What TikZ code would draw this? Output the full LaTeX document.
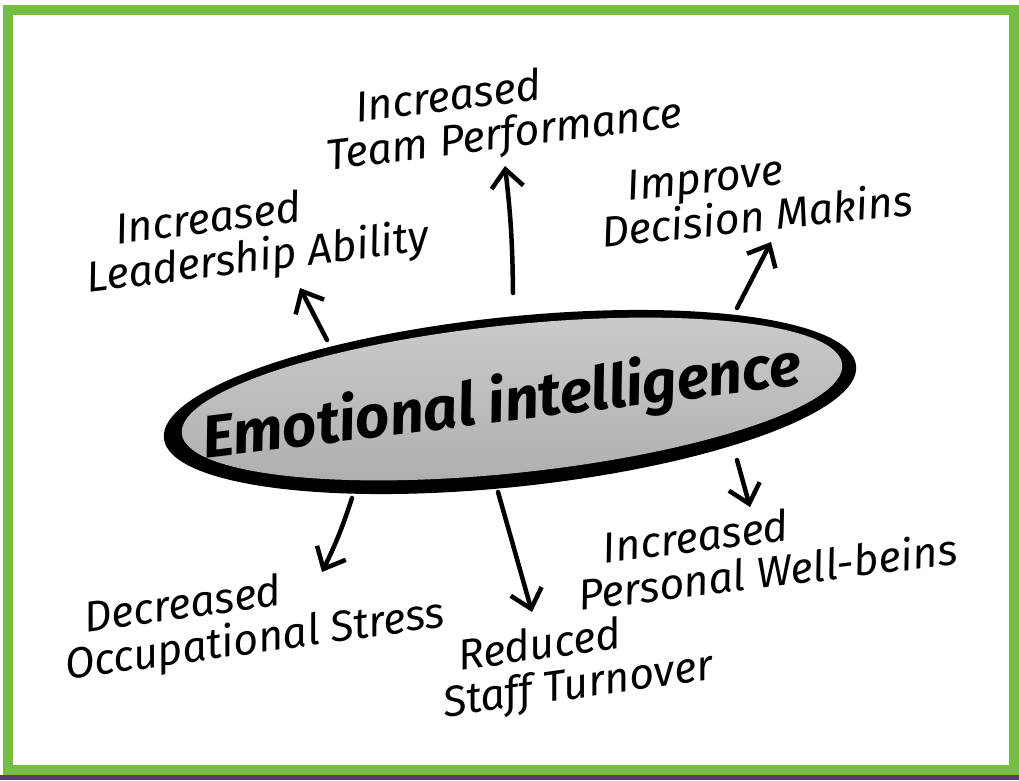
\documentclass[tikz,border=0pt]{standalone}
\usepackage{fontspec}
\setmainfont{Fira Sans}
\usetikzlibrary{shapes.geometric,arrows.meta}
\definecolor{framegreen}{HTML}{76BD43}
\definecolor{strippurple}{HTML}{5E3B6E}
\tikzset{
	rim/.style={ellipse, fill=black, minimum width=696pt, minimum height=170pt, inner sep=0pt},
	core/.style={ellipse, top color=black!20, bottom color=black!32, minimum width=664pt, minimum height=148pt, inner sep=0pt},
	benefit/.style={font=\fontsize{43}{44}\selectfont\itshape, align=left, inner sep=0pt},
	pointer/.style={-{Straight Barb[length=18pt,width=32pt]}, line width=4.5pt, line cap=round, line join=round},
}
\begin{document}
\begin{tikzpicture}[x=1pt,y=-1pt]
			\useasboundingbox (0,0) rectangle (1019,780);
			\fill[white] (0,0) rectangle (1019,780);
			\fill[strippurple] (0,775) rectangle (1019,780);
			\draw[framegreen, line width=10pt] (8,10) rectangle (1014,770);

			\node[rim, rotate=6] (rim) at (510,402) {};
			\node[core, rotate=6] (core) at (512,399) {};
			\node[rotate=7, font=\fontsize{60}{60}\selectfont\bfseries\itshape] (ei) at (502,404) {Emotional intelligence};

			\node[benefit, rotate=7] (team) at (502,115) {\hspace{0.8em}Increased\\Team Performance};
			\node[benefit, rotate=7] (lead) at (255,238) {\hspace{0.8em}Increased\\Leadership Ability};
			\node[benefit, rotate=6] (dec) at (755,195) {\hspace{0.7em}Improve\\Decision Makins};
			\node[benefit, rotate=8] (stress) at (252,620) {\hspace{0.6em}Decreased\\Occupational Stress};
			\node[benefit, rotate=8] (staff) at (575,665) {\hspace{0.5em}Reduced\\Staff Turnover};
			\node[benefit, rotate=7] (well) at (765,550) {\hspace{0.7em}Increased\\Personal Well-beins};

			\coordinate (t0) at (513,293);
			\coordinate (t1) at (505,166);
			\coordinate (l0) at (327,340);
			\coordinate (l1) at (300,288);
			\coordinate (d0) at (737,308);
			\coordinate (d1) at (771,242);
			\coordinate (s0) at (352,498);
			\coordinate (s1) at (322,572);
			\coordinate (r0) at (498,492);
			\coordinate (r1) at (532,612);
			\coordinate (w0) at (737,460);
			\coordinate (w1) at (750,507);

			\draw[pointer] (t0) to[bend right=3] (t1);
			\draw[pointer] (l0) -- (l1);
			\draw[pointer] (d0) -- (d1);
			\draw[pointer] (s0) to[bend left=4] (s1);
			\draw[pointer] (r0) -- (r1);
			\draw[pointer] (w0) -- (w1);
		\end{tikzpicture}
\end{document}
